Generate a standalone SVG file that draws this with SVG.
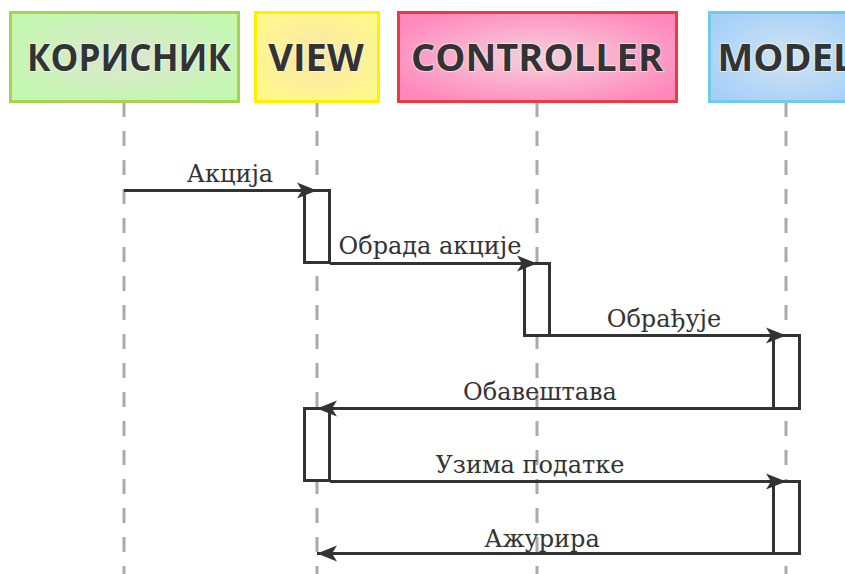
<svg xmlns="http://www.w3.org/2000/svg" width="845" height="574" viewBox="0 0 845 574">
<style>
.hdr{font-family:"Open Sans","Noto Sans","DejaVu Sans",sans-serif;font-weight:bold;font-size:38px;fill:#333;text-anchor:middle;stroke:#ffffff;stroke-opacity:0.5;stroke-width:2;paint-order:stroke}
.life{stroke:#aaaaaa;stroke-width:3;stroke-dasharray:15 14;fill:none}
.act{fill:#ffffff;stroke:#333333;stroke-width:3}
.msg{stroke:#333333;stroke-width:3;fill:none}
.lbl{font-family:"DejaVu Serif","Liberation Serif",serif;font-size:24px;fill:#333;text-anchor:middle}
</style>
<defs>
<radialGradient id="gU" cx="0.5" cy="0.5" r="0.6"><stop offset="0" stop-color="#dde6cf"/><stop offset="1" stop-color="#c2f8b0"/></radialGradient>
<radialGradient id="gV" cx="0.5" cy="0.5" r="0.6"><stop offset="0" stop-color="#f8e6a8"/><stop offset="1" stop-color="#fff88c"/></radialGradient>
<radialGradient id="gC" cx="0.5" cy="0.5" r="0.6"><stop offset="0" stop-color="#f5d2dc"/><stop offset="1" stop-color="#ff88bc"/></radialGradient>
<radialGradient id="gM" cx="0.5" cy="0.5" r="0.6"><stop offset="0" stop-color="#d2e4f0"/><stop offset="1" stop-color="#a6d0fa"/></radialGradient>
<marker id="ah" markerWidth="22" markerHeight="18" refX="20" refY="9" orient="auto" markerUnits="userSpaceOnUse">
<path d="M0,1 L20,9 L0,17 L5,9 Z" fill="#333333"/>
</marker>
</defs>
<g id="lifelines">
<line class="life" x1="124" y1="102" x2="124" y2="574"/>
<line class="life" x1="317" y1="102" x2="317" y2="574"/>
<line class="life" x1="537" y1="102" x2="537" y2="574"/>
<line class="life" x1="786" y1="102" x2="786" y2="574"/>
</g>
<g id="user"><rect x="10.5" y="12.5" width="228" height="89" fill="url(#gU)" stroke="#a6d44e" stroke-width="3"/><text class="hdr" x="129" y="71" textLength="204" lengthAdjust="spacingAndGlyphs">КОРИСНИК</text></g>
<g id="view"><rect x="255.5" y="12.5" width="123" height="89" fill="url(#gV)" stroke="#fff000" stroke-width="3"/><text class="hdr" x="316" y="71">VIEW</text></g>
<g id="controller"><rect x="398.5" y="12.5" width="278" height="89" fill="url(#gC)" stroke="#ea3a44" stroke-width="3"/><text class="hdr" x="537" y="71">CONTROLLER</text></g>
<g id="model"><rect x="709.5" y="12.5" width="160" height="89" fill="url(#gM)" stroke="#70cbe8" stroke-width="3"/><text class="hdr" x="786" y="71">MODEL</text></g>
<g id="activations">
<rect class="act" x="304.5" y="190.5" width="25" height="72"/>
<rect class="act" x="524.5" y="263.5" width="25" height="72"/>
<rect class="act" x="773.5" y="335.5" width="26" height="73"/>
<rect class="act" x="304.5" y="408.5" width="25" height="72"/>
<rect class="act" x="773.5" y="481.5" width="26" height="72"/>
</g>
<g id="connectors">
<line class="msg" x1="124" y1="190.5" x2="317" y2="190.5" marker-end="url(#ah)"/>
<line class="msg" x1="330" y1="263.5" x2="537" y2="263.5" marker-end="url(#ah)"/>
<line class="msg" x1="550" y1="335.5" x2="786" y2="335.5" marker-end="url(#ah)"/>
<line class="msg" x1="773" y1="408.5" x2="317" y2="408.5" marker-end="url(#ah)"/>
<line class="msg" x1="330" y1="481.5" x2="786" y2="481.5" marker-end="url(#ah)"/>
<line class="msg" x1="773" y1="553.5" x2="317" y2="553.5" marker-end="url(#ah)"/>
</g>
<g id="labels">
<text class="lbl" x="230" y="182">Акција</text>
<text class="lbl" x="430" y="254">Обрада акције</text>
<text class="lbl" x="664" y="327">Обрађује</text>
<text class="lbl" x="540" y="400">Обавештава</text>
<text class="lbl" x="530" y="473">Узима податке</text>
<text class="lbl" x="542" y="547">Ажурира</text>
</g>
</svg>
